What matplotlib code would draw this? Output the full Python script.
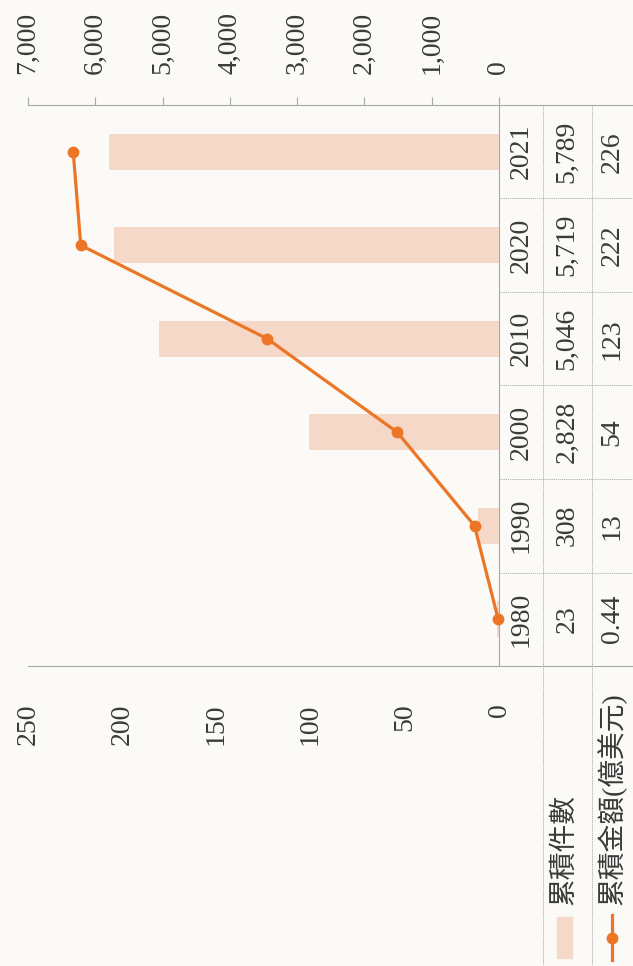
import matplotlib
matplotlib.use("Agg")
import matplotlib.pyplot as plt
from matplotlib.lines import Line2D
from matplotlib.patches import Rectangle
from matplotlib.transforms import blended_transform_factory

# data
years = ["1980", "1990", "2000", "2010", "2020", "2021"]
case_counts = [23, 308, 2828, 5046, 5719, 5789]
amounts = [0.44, 13, 54, 123, 222, 226]
count_labels = ["23", "308", "2,828", "5,046", "5,719", "5,789"]
amount_labels = ["0.44", "13", "54", "123", "222", "226"]
count_ticks = [0, 1000, 2000, 3000, 4000, 5000, 6000, 7000]
amount_ticks = [0, 50, 100, 150, 200, 250]
legend_labels = ["累積件數", "累積金額(億美元)"]

BAR_COLOR = "#F6D8C9"
LINE_COLOR = "#EC7626"
GRID_COLOR = "#A8A8A8"
TEXT_COLOR = "#3A3A3A"

plt.rcParams["font.family"] = ["Liberation Serif", "Noto Sans CJK TC", "DejaVu Sans"]

W, H = 633, 966
fig = plt.figure(figsize=(W / 100, H / 100), dpi=100)
fig.patch.set_facecolor("#FBFAF7")


def fx(px):
    return px / W


def fy(py):
    return 1 - py / H


# plot region (the whole chart is turned 90 degrees)
left, right, top, bottom = 28, 499, 105, 666
ax = fig.add_axes([fx(left), fy(bottom), fx(right) - fx(left), fy(top) - fy(bottom)])
ax.set_facecolor("none")
ax2 = ax.twiny()
ax2.set_facecolor("none")
pos = list(range(len(years)))

# bars: cumulative cases, top axis
ax.barh(pos, case_counts, height=0.39, color=BAR_COLOR, zorder=1)
ax.set_xlim(7000, 0)
ax.set_ylim(-0.5, len(years) - 0.5)
ax.xaxis.set_ticks_position("top")
ax.xaxis.set_label_position("top")
ax.set_xticks(count_ticks)
ax.set_xticklabels([f"{t:,}" for t in count_ticks], rotation=90, fontsize=20,
                   color=TEXT_COLOR)
ax.tick_params(axis="x", direction="out", length=6, width=0.8, color=GRID_COLOR, pad=16)
ax.set_yticks([])
for s in ["left", "bottom"]:
    ax.spines[s].set_visible(False)
for s in ["top", "right"]:
    ax.spines[s].set_color(GRID_COLOR)
    ax.spines[s].set_linewidth(0.8)

# line: cumulative amount, bottom axis
ax2.plot(amounts, pos, color=LINE_COLOR, lw=2.3, marker="o", markersize=7.5,
         zorder=3, clip_on=False)
ax2.set_xlim(250, 0)
ax2.xaxis.set_ticks_position("bottom")
ax2.xaxis.set_label_position("bottom")
ax2.set_xticks(amount_ticks)
ax2.set_xticklabels([str(t) for t in amount_ticks], rotation=90, fontsize=20,
                    color=TEXT_COLOR)
ax2.tick_params(axis="x", length=0, pad=27)
for s in ax2.spines.values():
    s.set_visible(False)

# table to the right of the plot
col_lines = [543, 592]
col_centers = [521, 567, 612]
trans = blended_transform_factory(fig.transFigure, ax.transData)

fig.add_artist(Line2D([fx(right), 1], [fy(top), fy(top)], color=GRID_COLOR, lw=0.8))
fig.add_artist(Line2D([fx(left), 1], [fy(bottom), fy(bottom)], color=GRID_COLOR, lw=0.8))
for i in range(len(years) - 1):
    fig.add_artist(Line2D([fx(right), 1], [i + 0.5, i + 0.5], transform=trans,
                          color=GRID_COLOR, lw=0.6, ls=(0, (1.5, 1))))
for cx in col_lines:
    fig.add_artist(Line2D([fx(cx), fx(cx)], [fy(top), 0], color=GRID_COLOR, lw=0.6,
                          ls=(0, (1.5, 1))))

for i, p in enumerate(pos):
    for cx, txt in zip(col_centers, [years[i], count_labels[i], amount_labels[i]]):
        fig.text(fx(cx), p, txt, transform=trans, rotation=90, ha="center", va="center",
                 fontsize=20, color=TEXT_COLOR)

# legend rows under the table
fig.add_artist(Rectangle((fx(557), fy(958)), fx(15), fy(917) - fy(958),
                         color=BAR_COLOR, transform=fig.transFigure))
fig.add_artist(Line2D([fx(612), fx(612)], [fy(960), fy(915)], color=LINE_COLOR, lw=2.3))
fig.add_artist(Line2D([fx(612)], [fy(938)], color=LINE_COLOR, marker="o", markersize=7.5))
fig.text(fx(565), fy(905), legend_labels[0], rotation=90, ha="center", va="bottom",
         fontsize=20, color=TEXT_COLOR)
fig.text(fx(612), fy(905), legend_labels[1], rotation=90, ha="center", va="bottom",
         fontsize=20, color=TEXT_COLOR)

fig.savefig("out.png", dpi=100, facecolor=fig.get_facecolor())
